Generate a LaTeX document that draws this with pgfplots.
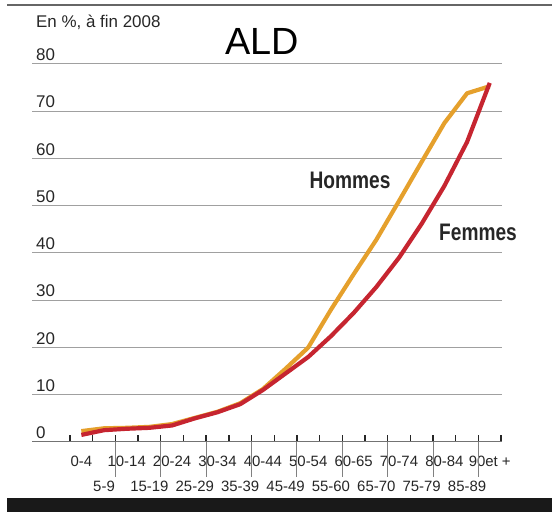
\documentclass[border=0pt]{standalone}
\usepackage{pgfplots}
\pgfplotsset{compat=1.18}
\usepackage{fontspec}
\setmainfont{Liberation Sans}
\newfontfamily\condbold[FakeStretch=0.8]{Liberation Sans Bold}
\definecolor{hommes}{HTML}{E5A02C}
\definecolor{femmes}{HTML}{C62530}
\definecolor{txt}{HTML}{262626}
\definecolor{gridc}{HTML}{A0A0A0}
\begin{document}
\begin{tikzpicture}[x=1bp,y=1bp]
\useasboundingbox (0,0) rectangle (552,512);
\fill[black!90] (7,0) rectangle (552,14);
\draw[black!60, line width=1.6bp] (7,507) -- (552,507);
\node[anchor=base west, inner sep=0pt, text=txt, font=\fontsize{17}{20}\selectfont] at (36,484) {En \%, à fin 2008};
\node[anchor=center, inner sep=0pt, font=\fontsize{38}{44}\selectfont] at (262,471) {ALD};
\begin{axis}[
  at={(32bp,70bp)}, anchor=south west,
  scale only axis, width=470bp, height=378bp,
  xmin=-2.175, xmax=18.54, ymin=0, ymax=80,
  clip=false,
  axis x line*=bottom, axis y line*=left,
  x axis line style={draw=gray!90!black, line width=1bp},
  y axis line style={draw=none},
  ytick={0,10,...,80},
  ymajorgrids, grid style={gridc, line width=1bp},
  y tick style={draw=none},
  yticklabel style={anchor=south west, inner sep=0pt, xshift=4bp, yshift=3bp, text=txt, font=\fontsize{17}{20}\selectfont},
  /pgf/number format/assume math mode=true,
  xtick={0,...,18},
  x tick style={draw=none},
  xticklabels={0-4,\phantom{0}\\5-9,10-14,\phantom{0}\\15-19,20-24,\phantom{0}\\25-29,30-34,\phantom{0}\\35-39,40-44,\phantom{0}\\45-49,50-54,\phantom{0}\\55-60,60-65,\phantom{0}\\65-70,70-74,\phantom{0}\\75-79,80-84,\phantom{0}\\85-89,90et +},
  xticklabel style={anchor=north, align=center, inner sep=0pt, yshift=-14bp, text=txt, font=\fontsize{15}{25}\selectfont},
  minor xtick={-0.5,0.5,...,18.5},
  minor x tick style={draw=txt, line width=1.4bp},
  minor tick length=7bp,
  tick align=inside,
  extra x ticks={1.5,3.5,...,17.5},
  extra x tick labels={},
  extra x tick style={tick align=outside, major tick length=35bp, x tick style={draw=gray, line width=0.8bp}},
]
\addplot[hommes, line width=4.2bp, line join=round] coordinates {
(0,2.3) (1,2.9) (2,3.0) (3,3.2) (4,3.8) (5,5.1) (6,6.4) (7,8.2) (8,11.2) (9,15.5)
(10,20) (11,28) (12,35.5) (13,42.8) (14,51) (15,59.3) (16,67.5) (17,73.8) (18,75.3)};
\addplot[femmes, line width=4.2bp, line join=round] coordinates {
(0,1.5) (1,2.5) (2,2.8) (3,3.0) (4,3.5) (5,5.0) (6,6.3) (7,8.0) (8,11.0) (9,14.5)
(10,18) (11,22.4) (12,27.3) (13,32.8) (14,39) (15,46.2) (16,54.2) (17,63.5) (18,76)};
\end{axis}
\node[text=txt, inner sep=0pt, font=\condbold\fontsize{24}{28}\selectfont] at (350,332) {Hommes};
\node[text=txt, inner sep=0pt, font=\condbold\fontsize{24}{28}\selectfont] at (478,280) {Femmes};
\end{tikzpicture}
\end{document}
